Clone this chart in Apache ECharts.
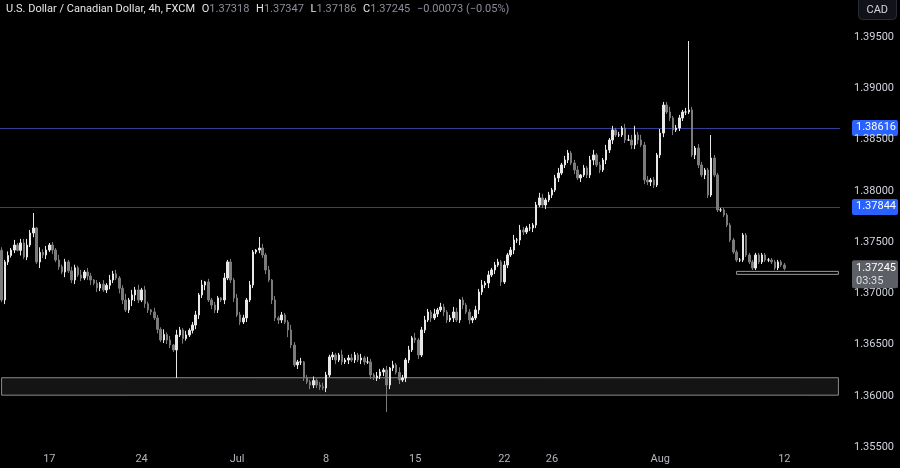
<!DOCTYPE html>
<html>
<head>
<meta charset="utf-8">
<script src="https://cdn.jsdelivr.net/npm/echarts@6/dist/echarts.min.js"></script>
<style>
  html, body { margin: 0; padding: 0; background: #000; }
  #chart { width: 900px; height: 468px; }
</style>
</head>
<body>
<div id="chart"></div>
<script>
// closes of each 4h candle
const closes = [
  1.36936, 1.37307, 1.37370, 1.37423, 1.37472, 1.37420, 1.37492, 1.37355, 1.37472, 1.37589,
  1.37638, 1.37307, 1.37400, 1.37375, 1.37423, 1.37472, 1.37423, 1.37326, 1.37260, 1.37209,
  1.37307, 1.37220, 1.37131, 1.37250, 1.37180, 1.37150, 1.37209, 1.37170, 1.37131, 1.37100,
  1.37053, 1.37090, 1.37034, 1.37080, 1.37131, 1.37190, 1.37150, 1.37050, 1.36936, 1.36839,
  1.36936, 1.36985, 1.37034, 1.36936, 1.37034, 1.36900, 1.36839, 1.36820, 1.36761, 1.36650,
  1.36546, 1.36600, 1.36546, 1.36497, 1.36449, 1.36595, 1.36644, 1.36560, 1.36595, 1.36640,
  1.36692, 1.36790, 1.36985, 1.37082, 1.37112, 1.36936, 1.36887, 1.36839, 1.36956, 1.36936,
  1.37150, 1.37307, 1.37131, 1.36956, 1.36790, 1.36722, 1.36761, 1.36936, 1.37082, 1.37404,
  1.37423, 1.37443, 1.37375, 1.37229, 1.37131, 1.36936, 1.36761, 1.36741, 1.36790, 1.36720,
  1.36644, 1.36497, 1.36303, 1.36332, 1.36332, 1.36176, 1.36137, 1.36107, 1.36150, 1.36107,
  1.36090, 1.36078, 1.36205, 1.36381, 1.36400, 1.36351, 1.36400, 1.36332, 1.36351, 1.36371,
  1.36351, 1.36400, 1.36351, 1.36371, 1.36332, 1.36332, 1.36205, 1.36176, 1.36195, 1.36234,
  1.36254, 1.36107, 1.36273, 1.36303, 1.36230, 1.36156, 1.36176, 1.36351, 1.36449, 1.36566,
  1.36546, 1.36400, 1.36644, 1.36741, 1.36819, 1.36761, 1.36800, 1.36839, 1.36868, 1.36819,
  1.36741, 1.36761, 1.36819, 1.36741, 1.36936, 1.36887, 1.36819, 1.36741, 1.36761, 1.36839,
  1.37014, 1.37082, 1.37102, 1.37180, 1.37229, 1.37277, 1.37307, 1.37112, 1.37277, 1.37375,
  1.37423, 1.37521, 1.37521, 1.37618, 1.37599, 1.37638, 1.37638, 1.37667, 1.37862, 1.37931,
  1.37862, 1.37911, 1.37960, 1.38009, 1.38126, 1.38174, 1.38253, 1.38301, 1.38369, 1.38272,
  1.38204, 1.38126, 1.38155, 1.38223, 1.38155, 1.38301, 1.38350, 1.38253, 1.38204, 1.38301,
  1.38399, 1.38496, 1.38594, 1.38545, 1.38545, 1.38613, 1.38496, 1.38496, 1.38447, 1.38545,
  1.38496, 1.38447, 1.38106, 1.38087, 1.38106, 1.38057, 1.38350, 1.38564, 1.38837, 1.38769,
  1.38711, 1.38594, 1.38613, 1.38711, 1.38769, 1.38769, 1.38789, 1.38350, 1.38418, 1.38253,
  1.38155, 1.38204, 1.37960, 1.38320, 1.38155, 1.37814, 1.37814, 1.37765, 1.37667, 1.37521,
  1.37404, 1.37326, 1.37326, 1.37570, 1.37375, 1.37307, 1.37248, 1.37375, 1.37307, 1.37375,
  1.37326, 1.37326, 1.37307, 1.37248, 1.37307, 1.37277, 1.37245
];
const firstOpen = 1.37420;
// wick lengths in pips above / below the body
const wickUp = '3242524463215342325232432524313242534236253524214325241532423425132321523243324213424142322532413242343232252343242532432414253242523432524323541323243524233242352532423542323524323413245232524232455935342324335233242324322432';
const wickDn = '2432315232426342423252342324524323432542366324332423432425223443524332423423242323342434327324332433324234232423243242334243242432342324232432423424324335242423243532343234232423324242335232434222314442434323423523332243243';
// long wicks that stand out
const highs = { 10: 1.37784, 81: 1.37550, 216: 1.39461, 223: 1.38545 };
const lows = { 55: 1.36176, 121: 1.35844 };

const dayLabels = { 15: '17', 44: '24', 74: 'Jul', 102: '8', 130: '15', 158: '22', 173: '26', 207: 'Aug', 246: '12' };
const padCandles = 17;
const yTicks = [1.355, 1.36, 1.365, 1.37, 1.375, 1.38, 1.385, 1.39, 1.395];

const resistance = [1.38616, 1.37844];
const supportZone = [1.36008, 1.36178];
const recentLow = [1.37186, 1.37215];
const recentLowStart = 231;
const lastPrice = 1.37245;

const candles = closes.map((c, i) => {
  const o = i === 0 ? firstOpen : closes[i - 1];
  let h = Math.max(o, c) + Number(wickUp[i] || 2) * 0.0001;
  let l = Math.min(o, c) - Number(wickDn[i] || 2) * 0.0001;
  if (highs[i]) h = highs[i];
  if (lows[i]) l = lows[i];
  return [o, c, l, h];
});
const cats = [];
for (let i = 0; i < closes.length + padCandles; i++) cats.push(dayLabels[i] || '');

const chart = echarts.init(document.getElementById('chart'));
chart.setOption({
  backgroundColor: '#000000',
  animation: false,
  grid: { left: 0, right: 60, top: 0, bottom: 20 },
  xAxis: {
    type: 'category',
    data: cats,
    boundaryGap: true,
    axisLine: { show: false },
    axisTick: { show: false },
    splitLine: { show: false },
    axisLabel: {
      interval: (i) => !!dayLabels[i],
      color: '#b2b5be', fontSize: 11, fontFamily: 'Roboto', margin: 6
    }
  },
  yAxis: {
    type: 'value',
    position: 'right',
    min: 1.35493,
    max: 1.39861,
    axisLine: { show: false },
    axisTick: { show: false },
    splitLine: { show: false },
    axisLabel: {
      customValues: yTicks,
      formatter: (v) => v.toFixed(5),
      color: '#d1d4dc', fontSize: 11, fontFamily: 'Roboto', margin: 14
    }
  },
  series: [{
    type: 'candlestick',
    data: candles,
    barWidth: 2,
    z: 3,
    itemStyle: {
      color: '#e8e8e8', color0: '#7b7b7b',
      borderColor: '#e8e8e8', borderColor0: '#7b7b7b', borderWidth: 1
    },
    markArea: {
      silent: true,
      data: [
        [{ yAxis: supportZone[0], xAxis: 0, itemStyle: { color: '#141414', borderColor: '#8a8a8a', borderWidth: 1 } },
         { yAxis: supportZone[1], xAxis: cats.length - 1 }],
        [{ yAxis: recentLow[0], xAxis: recentLowStart, itemStyle: { color: '#000', borderColor: '#9a9a9a', borderWidth: 1 } },
         { yAxis: recentLow[1], xAxis: cats.length - 1 }]
      ]
    }
  }]
});

// resistance lines, price tags, currency button, header
const extras = [];
resistance.forEach((v) => {
  const y = Math.round(chart.convertToPixel({ yAxisIndex: 0 }, v));
  extras.push({
    type: 'rect', z: 1, silent: true,
    shape: { x: 0, y: y, width: 840, height: 1 },
    style: { fill: '#343c96' }
  });
  extras.push({
    type: 'group', left: 852, top: y - 8,
    children: [
      { type: 'rect', shape: { width: 46, height: 16, r: 2 }, style: { fill: '#2962ff' } },
      { type: 'text', left: 4, top: 2, style: { text: v.toFixed(5), fill: '#fff', font: '11px Roboto' } }
    ]
  });
});
const lastY = chart.convertToPixel({ yAxisIndex: 0 }, lastPrice);
chart.setOption({
  graphic: extras.concat([
    {
      type: 'group', left: 852, top: lastY - 8,
      children: [
        { type: 'rect', shape: { width: 46, height: 28, r: 2 }, style: { fill: '#5d5f66' } },
        { type: 'text', left: 4, top: 2, style: { text: lastPrice.toFixed(5), fill: '#fff', font: '11px Roboto' } },
        { type: 'text', left: 4, top: 15, style: { text: '03:35', fill: '#dedede', font: '11px Roboto' } }
      ]
    },
    {
      type: 'group', left: 858, top: -4,
      children: [
        { type: 'rect', shape: { width: 38, height: 23, r: 4 }, style: { fill: '#111318', stroke: '#2a2d35' } },
        { type: 'text', left: 8, top: 8, style: { text: 'CAD', fill: '#d1d4dc', font: '11px Roboto' } }
      ]
    },
    {
      type: 'text', left: 6, top: 3,
      style: {
        text: '{t|U.S. Dollar / Canadian Dollar, 4h, FXCM}  {k|O}{v|1.37318}  {k|H}{v|1.37347}  {k|L}{v|1.37186}  {k|C}{v|1.37245}  {v|−0.00073 (−0.05%)}',
        rich: {
          t: { fill: '#e6e6e6', font: '11px Roboto' },
          k: { fill: '#e6e6e6', font: '11px Roboto' },
          v: { fill: '#8c8f99', font: '11px Roboto' }
        }
      }
    }
  ])
});
</script>
</body>
</html>
